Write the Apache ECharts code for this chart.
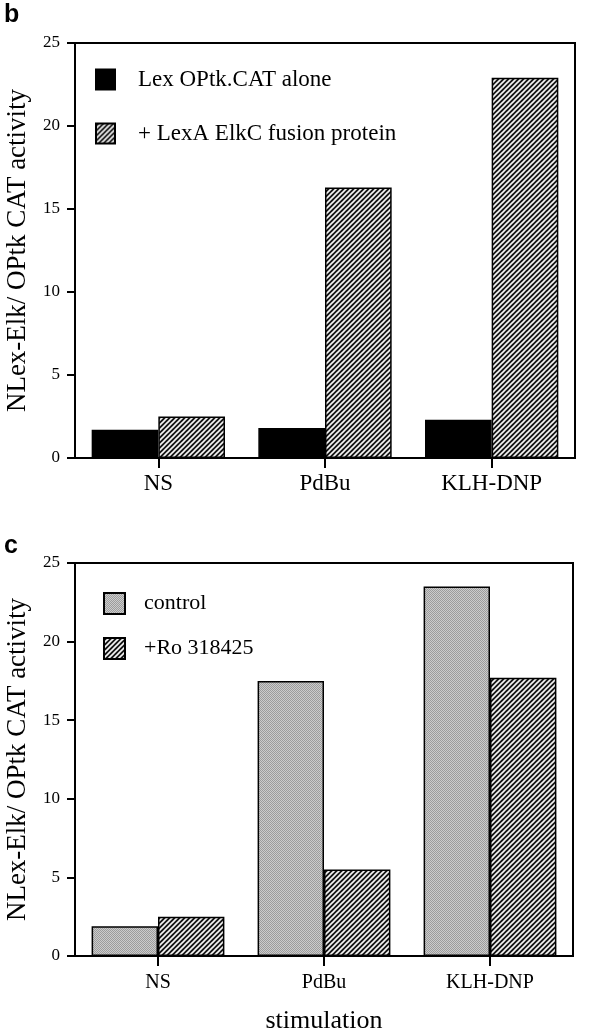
<!DOCTYPE html>
<html>
<head>
<meta charset="utf-8">
<script src="https://cdn.jsdelivr.net/npm/echarts@6/dist/echarts.min.js"></script>
<style>
html,body{margin:0;padding:0;background:#fff;}
#c{width:616px;height:1031px;}
</style>
</head>
<body>
<div id="c"></div>
<script>
// ---- data ----
const categories = ['NS', 'PdBu', 'KLH-DNP'];
const seriesB1Name = 'Lex OPtk.CAT alone';
const seriesB2Name = '+ LexA ElkC fusion protein';
const seriesB1 = [1.7, 1.8, 2.3];
const seriesB2 = [2.5, 16.3, 22.9];
const seriesC1Name = 'control';
const seriesC2Name = '+Ro 318425';
const seriesC1 = [1.9, 17.5, 23.5];
const seriesC2 = [2.5, 5.5, 17.7];
const yAxisTitle = 'NLex-Elk/ OPtk CAT activity';
const xAxisTitle = 'stimulation';

// ---- patterns ----
function hatchPattern() {
  const s = 5;
  const c = document.createElement('canvas');
  c.width = s; c.height = s;
  const g = c.getContext('2d');
  g.fillStyle = '#151515';
  g.fillRect(0, 0, s, s);
  g.strokeStyle = '#f4f4f4';
  g.lineWidth = 1.6;
  g.beginPath();
  g.moveTo(-1, s + 1); g.lineTo(s + 1, -1);
  g.moveTo(-1 - s, s + 1); g.lineTo(1, -1);
  g.moveTo(s - 1, s + 1); g.lineTo(2 * s + 1, -1);
  g.stroke();
  return c;
}
function grayPattern() {
  const c = document.createElement('canvas');
  c.width = 2; c.height = 2;
  const g = c.getContext('2d');
  g.fillStyle = '#cccccc'; g.fillRect(0, 0, 2, 2);
  g.fillStyle = '#9c9c9c'; g.fillRect(0, 0, 1, 1); g.fillRect(1, 1, 1, 1);
  return c;
}
const hatch = { image: hatchPattern(), repeat: 'repeat' };
const gray = { image: grayPattern(), repeat: 'repeat' };

const serif = 'Liberation Serif';

function yAxis(gridIndex) {
  return {
    type: 'value', gridIndex: gridIndex, min: 0, max: 25, interval: 5,
    name: yAxisTitle, nameLocation: 'middle', nameGap: 44,
    nameTextStyle: { fontFamily: serif, fontSize: 27, color: '#000' },
    axisLine: { show: true, lineStyle: { color: '#000', width: 2 } },
    axisTick: { show: true, length: 8, lineStyle: { color: '#000', width: 2 } },
    axisLabel: { fontFamily: serif, fontSize: 17, color: '#000', margin: 15 },
    splitLine: { show: false }
  };
}
function xAxis(gridIndex, fs, margin, extra) {
  return Object.assign({
    type: 'category', gridIndex: gridIndex, data: categories,
    axisLine: { show: true, lineStyle: { color: '#000', width: 2 } },
    axisTick: { show: true, alignWithLabel: true, length: 10, lineStyle: { color: '#000', width: 2 } },
    axisLabel: { fontFamily: serif, fontSize: fs, color: '#000', margin: margin }
  }, extra || {});
}
const barBorder = { borderColor: '#000', borderWidth: 1.5 };

const chart = echarts.init(document.getElementById('c'), null, { renderer: 'canvas' });
chart.setOption({
  animation: false,
  backgroundColor: '#fff',
  graphic: [
    { type: 'text', left: 4, top: 3, style: { text: 'b', font: 'bold 25px "Liberation Sans"', fill: '#000' } },
    { type: 'text', left: 4, top: 534, style: { text: 'c', font: 'bold 25px "Liberation Sans"', fill: '#000' } }
  ],
  grid: [
    { left: 75, right: 41, top: 43, height: 415, show: true, borderColor: '#000', borderWidth: 2,
      backgroundColor: 'transparent', containLabel: false, outerBoundsMode: 'none' },
    { left: 75, right: 43, top: 563, height: 393, show: true, borderColor: '#000', borderWidth: 2,
      backgroundColor: 'transparent', containLabel: false, outerBoundsMode: 'none' }
  ],
  legend: [
    {
      data: [seriesB1Name, seriesB2Name], orient: 'vertical', left: 95, top: 68, padding: 0,
      itemWidth: 19, itemHeight: 20, itemGap: 31, icon: 'rect',
      textStyle: { fontFamily: serif, fontSize: 23, color: '#000', padding: [0, 0, 0, 18] },
      selectedMode: false
    },
    {
      data: [seriesC1Name, seriesC2Name], orient: 'vertical', left: 103, top: 592, padding: 0,
      itemWidth: 21, itemHeight: 21, itemGap: 22, icon: 'rect',
      textStyle: { fontFamily: serif, fontSize: 22, color: '#000', padding: [0, 0, 0, 14] },
      selectedMode: false
    }
  ],
  xAxis: [
    xAxis(0, 23, 14),
    xAxis(1, 20, 17, { name: xAxisTitle, nameLocation: 'middle', nameGap: 52,
      nameTextStyle: { fontFamily: serif, fontSize: 26, color: '#000' } })
  ],
  yAxis: [yAxis(0), yAxis(1)],
  series: [
    { name: seriesB1Name, type: 'bar', xAxisIndex: 0, yAxisIndex: 0, data: seriesB1,
      barGap: '0%', barCategoryGap: '20%', itemStyle: Object.assign({ color: '#000' }, barBorder) },
    { name: seriesB2Name, type: 'bar', xAxisIndex: 0, yAxisIndex: 0, data: seriesB2,
      barGap: '0%', barCategoryGap: '20%', itemStyle: Object.assign({ color: hatch }, barBorder) },
    { name: seriesC1Name, type: 'bar', xAxisIndex: 1, yAxisIndex: 1, data: seriesC1,
      barGap: '0%', barCategoryGap: '20%', itemStyle: Object.assign({ color: gray }, barBorder) },
    { name: seriesC2Name, type: 'bar', xAxisIndex: 1, yAxisIndex: 1, data: seriesC2,
      barGap: '0%', barCategoryGap: '20%', itemStyle: Object.assign({ color: hatch }, barBorder) }
  ]
});
</script>
</body>
</html>
